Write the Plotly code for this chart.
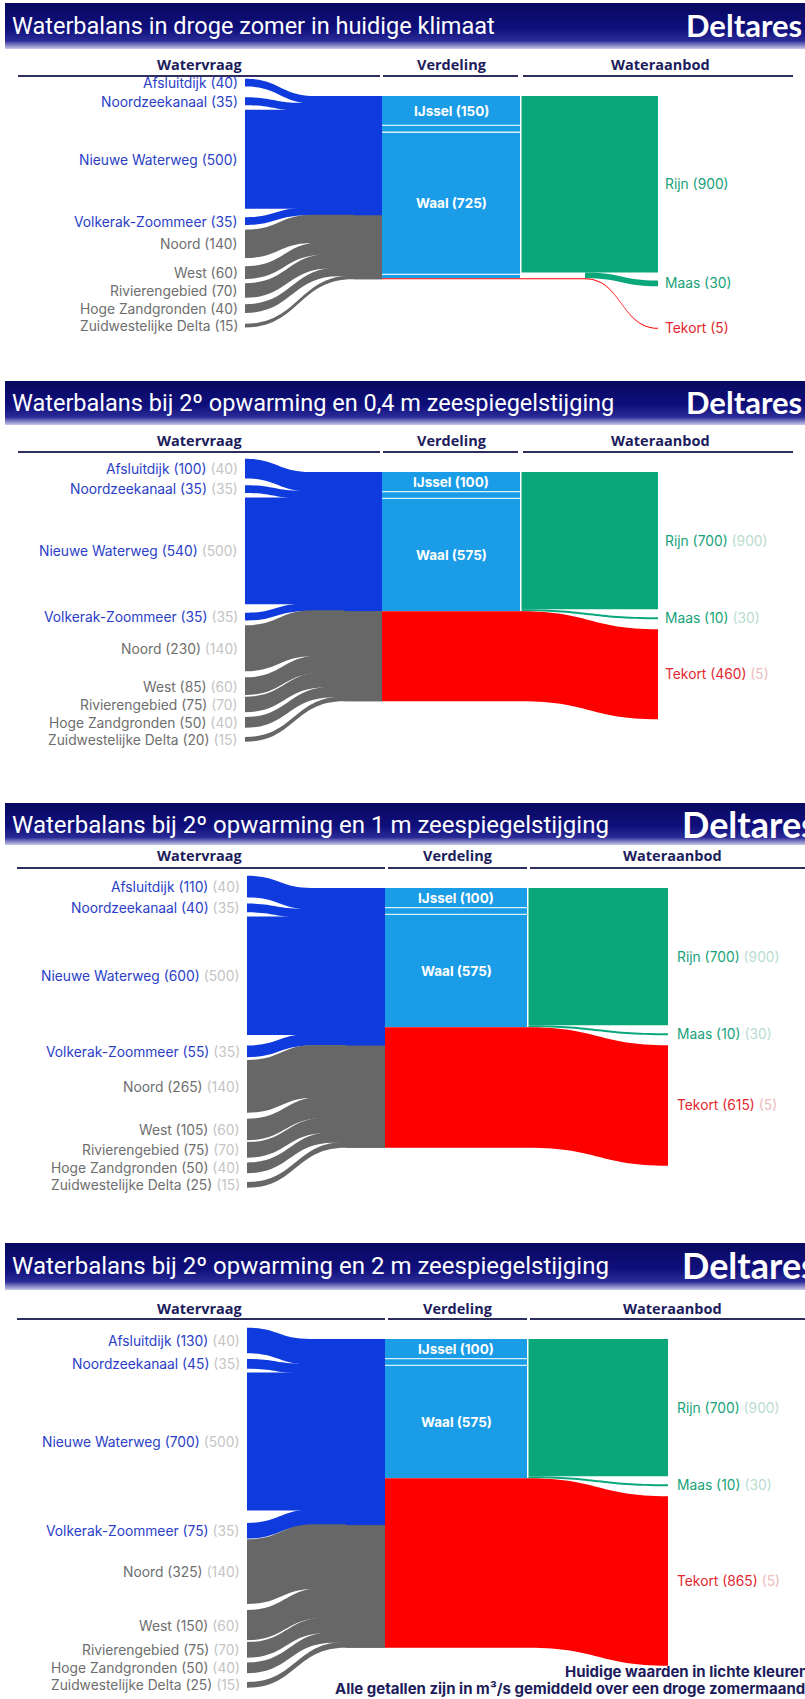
import plotly.graph_objects as go

W, H = 805, 1699
S = 0.196  # pixels per m3/s (vertical scale of all flows)

# ---------------- data ----------------
titles = [
    "Waterbalans in droge zomer in huidige klimaat",
    "Waterbalans bij 2º opwarming en 0,4 m zeespiegelstijging",
    "Waterbalans bij 2º opwarming en 1 m zeespiegelstijging",
    "Waterbalans bij 2º opwarming en 2 m zeespiegelstijging",
]
column_headers = ["Watervraag", "Verdeling", "Wateraanbod"]
demand_names = ["Afsluitdijk", "Noordzeekanaal", "Nieuwe Waterweg", "Volkerak-Zoommeer",
                "Noord", "West", "Rivierengebied", "Hoge Zandgronden", "Zuidwestelijke Delta"]
demand_is_blue = [True, True, True, True, False, False, False, False, False]
demand_huidig = [40, 35, 500, 35, 140, 60, 70, 40, 15]
demand_04m = [100, 35, 540, 35, 230, 85, 75, 50, 20]
demand_1m = [110, 40, 600, 55, 265, 105, 75, 50, 25]
demand_2m = [130, 45, 700, 75, 325, 150, 75, 50, 25]
demands = [demand_huidig, demand_04m, demand_1m, demand_2m]

ijssel = [150, 100, 100, 100]
tussen = [35, 35, 35, 35]          # unlabelled split between IJssel and Waal
waal = [725, 575, 575, 575]
rijn = [900, 700, 700, 700]
maas = [30, 10, 10, 10]
tekort = [5, 460, 615, 865]

footer_lines = ["Huidige waarden in lichte kleuren",
                "Alle getallen zijn in m³/s gemiddeld over een droge zomermaand"]

# ---------------- style ----------------
BLUE, GREY, LBLUE, GREEN, RED = "#0f3ade", "#676767", "#1a9ce6", "#0aa77b", "#ff0000"
LBL_BLUE, LBL_GREY, LBL_GREEN, LBL_RED = "#2a3ec8", "#6e6e6e", "#17a279", "#e3262e"
OLD, OLD_GREEN, OLD_RED = "#c4c4c4", "#b9dccf", "#ecbcbc"
NAVY = "#1c1c5c"
LFONT = "Inter"
LSIZE = 13.8

PANEL_Y = [
    dict(bar=(3, 49), title=26, header=64, line=76, top=96),
    dict(bar=(381, 425), title=403, header=440, line=452, top=472),
    dict(bar=(803, 845), title=825, header=855, line=868, top=888),
    dict(bar=(1243, 1290), title=1266, header=1308, line=1319, top=1339),
]
X_NARROW = dict(node=245, block_end=382, mid_end=520, right_end=658,
                label_left=240, label_right=663, hdr=(200, 452, 660),
                lines=[(18, 380), (383, 518), (523, 793)], delt_x=684, delt_size=31,
                title_size=23.5)
X_WIDE = dict(node=247, block_end=385, mid_end=527, right_end=668,
              label_left=242, label_right=675, hdr=(200, 458, 672),
              lines=[(17, 385), (388, 527), (530, 805)], delt_x=680, delt_size=36,
              title_size=24)
PANEL_X = [X_NARROW, X_NARROW, X_WIDE, X_WIDE]
RLINK_START = [585, None, None, None]  # None -> starts at right column

fig = go.Figure()
shapes, annotations = [], []


def band(x0, y0t, y0b, x1, y1t, y1b, xend, color):
    xm = (x0 + x1) / 2
    path = (f"M{x0},{y0t} C{xm},{y0t} {xm},{y1t} {x1},{y1t} L{xend},{y1t} L{xend},{y1b} "
            f"L{x1},{y1b} C{xm},{y1b} {xm},{y0b} {x0},{y0b} Z")
    shapes.append(dict(type="path", path=path, xref="x", yref="y",
                       fillcolor=color, line=dict(width=0), layer="above"))


def rect(x0, y0, x1, y1, color):
    shapes.append(dict(type="rect", x0=x0, x1=x1, y0=y0, y1=y1, xref="x", yref="y",
                       fillcolor=color, line=dict(width=0), layer="above"))


def hline(x0, x1, y, color, width):
    shapes.append(dict(type="line", x0=x0, x1=x1, y0=y, y1=y, xref="x", yref="y",
                       line=dict(color=color, width=width), layer="above"))


def label(x, y, text, color, size=LSIZE, anchor="left", weight="normal", family=LFONT):
    annotations.append(dict(x=x, y=y, xref="x", yref="y", text=text, showarrow=False,
                            xanchor=anchor, yanchor="middle",
                            font=dict(family=family, size=size, color=color, weight=weight)))


for k in range(4):
    py, px = PANEL_Y[k], PANEL_X[k]
    dem = demands[k]
    top = py["top"]

    # ---- title bar with vertical gradient ----
    b0, b1 = py["bar"]
    fig.add_trace(go.Scatter(
        x=[5, W, W, 5, 5], y=[b0, b0, b1, b1, b0], mode="lines", line=dict(width=0),
        fill="toself", hoverinfo="skip", showlegend=False,
        fillgradient=dict(type="vertical", start=b0, stop=b1,
                          colorscale=[[0, "#09095f"], [0.55, "#0f0f7c"],
                                      [0.82, "#2b2b98"], [1, "#c9c9e9"]])))
    label(10, py["title"], titles[k], "white", size=px["title_size"], family="Roboto")
    label(px["delt_x"], py["title"] - 1, "Deltares", "white", size=px["delt_size"],
          weight="bold", family="Lato")

    # ---- column headers ----
    for hx, txt in zip(px["hdr"], column_headers):
        label(hx, py["header"], txt, NAVY, size=14.5, anchor="center", weight="bold",
              family="Open Sans")
    for (l0, l1) in px["lines"]:
        hline(l0, l1, py["line"], "#2e2e5e", 2)

    # ---- demand side ----
    h = [v * S for v in dem]
    blue_sum = sum(v for v, b in zip(dem, demand_is_blue) if b)
    total = sum(dem)
    boundary = top + blue_sum * S
    block_pos = []
    acc = 0
    for v in dem:
        block_pos.append(top + acc * S)
        acc += v
    slot = [max(x, 16) for x in h]
    centers = [0.0] * 9
    centers[2] = block_pos[2] + h[2] / 2
    centers[1] = block_pos[2] - 1 - slot[1] / 2
    centers[0] = centers[1] - slot[1] / 2 - 3 - slot[0] / 2
    centers[3] = boundary + 6
    centers[4] = boundary + 15 + h[4] / 2
    centers[5] = centers[4] + h[4] / 2 + 7 + slot[5] / 2
    centers[6] = centers[5] + slot[5] / 2 + 2 + slot[6] / 2
    centers[7] = centers[6] + slot[6] / 2 + 2 + slot[7] / 2
    centers[8] = centers[7] + slot[7] / 2 + 1 + slot[8] / 2

    ends = []
    for i in range(9):
        dy = abs(centers[i] - (block_pos[i] + h[i] / 2))
        ends.append(px["node"] + 50 + 1.2 * dy if dy > 0.5 else px["node"] + 40)
    xend = min(max(ends) + 1, px["block_end"] - 10)

    for i in range(9):
        col = BLUE if demand_is_blue[i] else GREY
        ov = 0.9 if i > 0 else 0.0   # slight overlap hides anti-alias seams
        y0t, y0b = centers[i] - h[i] / 2, centers[i] + h[i] / 2
        band(px["node"], y0t - ov, y0b, ends[i], block_pos[i] - ov, block_pos[i] + h[i],
             px["block_end"], col)
        lcol = LBL_BLUE if demand_is_blue[i] else LBL_GREY
        txt = f"{demand_names[i]} ({dem[i]})"
        if k > 0:
            txt += f" <span style='color:{OLD}'>({demand_huidig[i]})</span>"
        label(px["label_left"], centers[i], txt, lcol, anchor="right")
    rect(xend, top, px["block_end"], boundary, BLUE)
    rect(xend, boundary, px["block_end"], top + total * S, GREY)

    # ---- distribution column ----
    rivers = rijn[k] + maas[k]
    lb_bottom = top + rivers * S
    rect(px["block_end"], top, px["mid_end"], lb_bottom, LBLUE)
    y_ij = top + ijssel[k] * S
    y_wt = top + (ijssel[k] + tussen[k]) * S
    y_wb = y_wt + waal[k] * S
    hline(px["block_end"], px["mid_end"], y_ij, "#d6f0fd", 1.3)
    hline(px["block_end"], px["mid_end"], y_wt, "#d6f0fd", 1.3)
    if lb_bottom - y_wb > 1.5:
        hline(px["block_end"], px["mid_end"], y_wb, "#d6f0fd", 1.3)
    cx = (px["block_end"] + px["mid_end"]) / 2
    label(cx, (top + y_ij) / 2, f"IJssel ({ijssel[k]})", "white", size=13.5,
          anchor="center", weight="bold")
    label(cx, (y_wt + y_wb) / 2, f"Waal ({waal[k]})", "white", size=13.5,
          anchor="center", weight="bold")

    # ---- supply column ----
    rs = px["mid_end"] + 1.5
    rl = RLINK_START[k] if RLINK_START[k] is not None else rs
    rijn_b = top + rijn[k] * S
    rect(rs, top, px["right_end"], rijn_b, GREEN)
    maas_t = rijn_b + 8
    maas_b = maas_t + maas[k] * S
    band(rl, rijn_b, rijn_b + maas[k] * S, px["right_end"], maas_t, maas_b,
         px["right_end"], GREEN)
    th = tekort[k] * S
    tek_t = max(maas_b + 10, (maas_t + maas_b) / 2 + 45 - th / 2)
    rect(px["block_end"], lb_bottom, rl + 0.5, lb_bottom + th, RED)
    band(rl, lb_bottom, lb_bottom + th, px["right_end"], tek_t, tek_t + th,
         px["right_end"], RED)

    txt = f"Rijn ({rijn[k]})"
    if k > 0:
        txt += f" <span style='color:{OLD_GREEN}'>({rijn[0]})</span>"
    label(px["label_right"], (top + rijn_b) / 2, txt, LBL_GREEN)
    txt = f"Maas ({maas[k]})"
    if k > 0:
        txt += f" <span style='color:{OLD_GREEN}'>({maas[0]})</span>"
    label(px["label_right"], (maas_t + maas_b) / 2, txt, LBL_GREEN)
    txt = f"Tekort ({tekort[k]})"
    if k > 0:
        txt += f" <span style='color:{OLD_RED}'>({tekort[0]})</span>"
    label(px["label_right"], tek_t + th / 2, txt, LBL_RED)

# ---- footer ----
label(563, 1671, footer_lines[0], NAVY, size=15, weight="bold")
label(333, 1688, footer_lines[1], NAVY, size=15, weight="bold")

fig.update_layout(
    width=W, height=H, margin=dict(l=0, r=0, t=0, b=0),
    paper_bgcolor="white", plot_bgcolor="white",
    xaxis=dict(range=[0, W], visible=False, fixedrange=True),
    yaxis=dict(range=[H, 0], visible=False, fixedrange=True),
    shapes=shapes, annotations=annotations, showlegend=False,
)
fig.write_html("out.html", config={"displayModeBar": False},
               post_script="document.body.style.margin='0px';")
